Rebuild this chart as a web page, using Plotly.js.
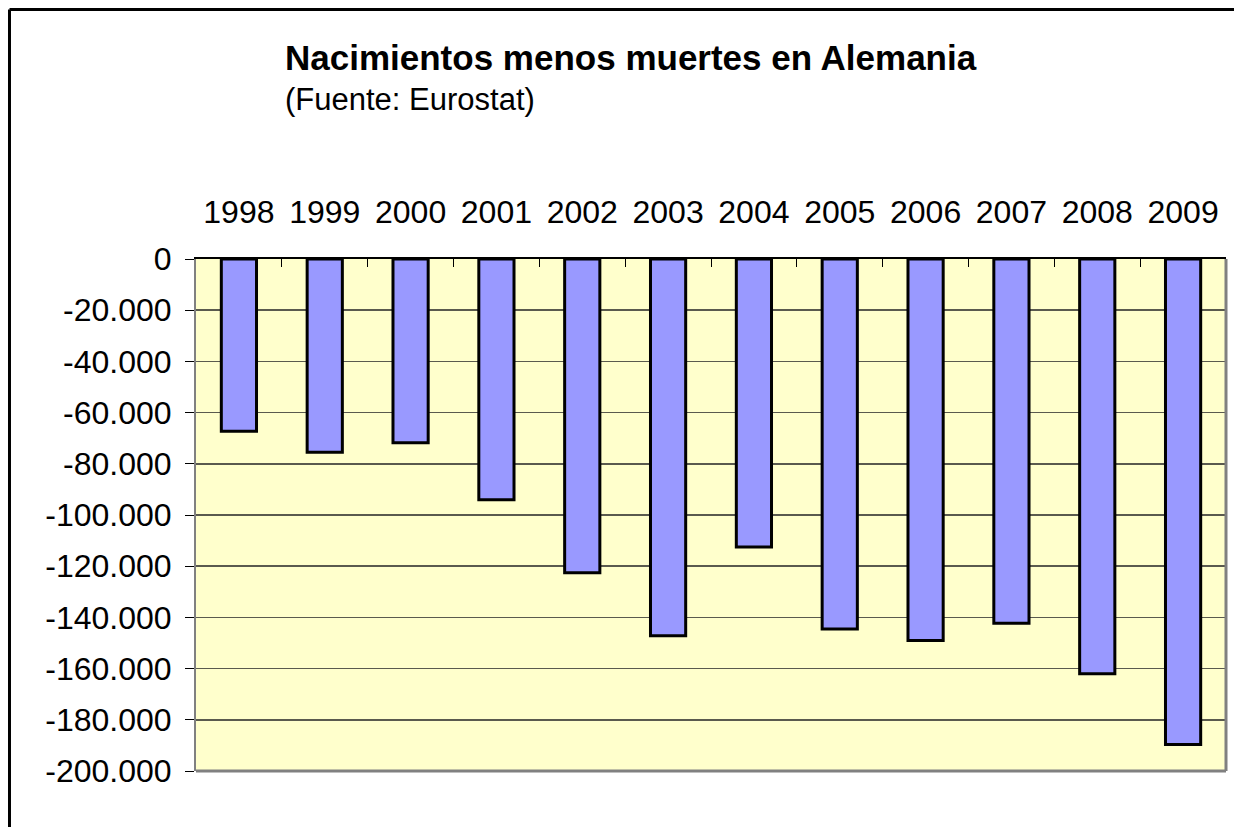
<!DOCTYPE html>
<html>
<head>
<meta charset="utf-8">
<script src="https://cdn.plot.ly/plotly-3.0.1.min.js"></script>
<style>
  html, body { margin: 0; padding: 0; background: #ffffff; }
  #chart { width: 1234px; height: 827px; }
</style>
</head>
<body>
<div id="chart"></div>
<script>
// Data
const years = ["1998", "1999", "2000", "2001", "2002", "2003", "2004", "2005", "2006", "2007", "2008", "2009"];
const naturalChange = [-67300, -75500, -71800, -94000, -122600, -147200, -112500, -144500, -149000, -142300, -162000, -189600];
const yTickVals = [0, -20000, -40000, -60000, -80000, -100000, -120000, -140000, -160000, -180000, -200000];
const yTickText = ["0", "-20.000", "-40.000", "-60.000", "-80.000", "-100.000", "-120.000", "-140.000", "-160.000", "-180.000", "-200.000"];
const titleText = "Nacimientos menos muertes en Alemania";
const subtitleText = "(Fuente: Eurostat)";

const FONT = "Arial, 'Liberation Sans', sans-serif";

const trace = {
  type: "bar",
  x: years,
  y: naturalChange,
  marker: { color: "#9999FF", line: { color: "#000000", width: 3 } },
  hoverinfo: "x+y"
};

const layout = {
  width: 1234,
  height: 827,
  margin: { l: 196, r: 8, t: 259, b: 56, pad: 0 },
  paper_bgcolor: "#ffffff",
  plot_bgcolor: "#FFFFCC",
  showlegend: false,
  bargap: 0.59,
  font: { family: FONT, size: 32, color: "#000000" },
  xaxis: {
    type: "category",
    side: "top",
    showgrid: false,
    zeroline: false,
    showline: true,
    linecolor: "#000000",
    linewidth: 2,
    ticks: "inside",
    tickson: "boundaries",
    ticklen: 8,
    tickwidth: 1,
    tickcolor: "#000000",
    ticklabelstandoff: 21,
    tickfont: { family: FONT, size: 32, color: "#000000" }
  },
  yaxis: {
    range: [-200000, 0],
    tickmode: "array",
    tickvals: yTickVals,
    ticktext: yTickText,
    showgrid: true,
    gridcolor: "#5a5a4e",
    gridwidth: 1.5,
    zeroline: false,
    showline: true,
    linecolor: "#808080",
    linewidth: 2,
    ticks: "outside",
    ticklen: 9,
    tickwidth: 1,
    tickcolor: "#000000",
    ticklabelstandoff: 7,
    tickfont: { family: FONT, size: 32, color: "#000000" }
  },
  shapes: [
    // plot area gray frame (right and bottom)
    { type: "line", xref: "paper", yref: "paper", x0: 1, x1: 1, y0: 0, y1: 1, line: { color: "#808080", width: 3 } },
    { type: "line", xref: "paper", yref: "paper", x0: 0, x1: 1, y0: 0, y1: 0, line: { color: "#808080", width: 3 } },
    // outer chart border (left and top visible)
    { type: "line", xref: "paper", yref: "paper", x0: -0.18107, x1: -0.18107, y0: -0.2, y1: 1.4873, line: { color: "#000000", width: 3 } },
    { type: "line", xref: "paper", yref: "paper", x0: -0.18107, x1: 1.05, y0: 1.4873, y1: 1.4873, line: { color: "#000000", width: 3 } }
  ],
  annotations: [
    { text: "<b>" + titleText + "</b>", xref: "paper", yref: "paper", x: 0.0845, y: 1.3926, xanchor: "left", yanchor: "middle", showarrow: false, font: { family: FONT, size: 35, color: "#000000" } },
    { text: subtitleText, xref: "paper", yref: "paper", x: 0.0845, y: 1.3125, xanchor: "left", yanchor: "middle", showarrow: false, font: { family: FONT, size: 31, color: "#000000" } }
  ]
};

Plotly.newPlot("chart", [trace], layout, { displayModeBar: false, staticPlot: true });
</script>
</body>
</html>
